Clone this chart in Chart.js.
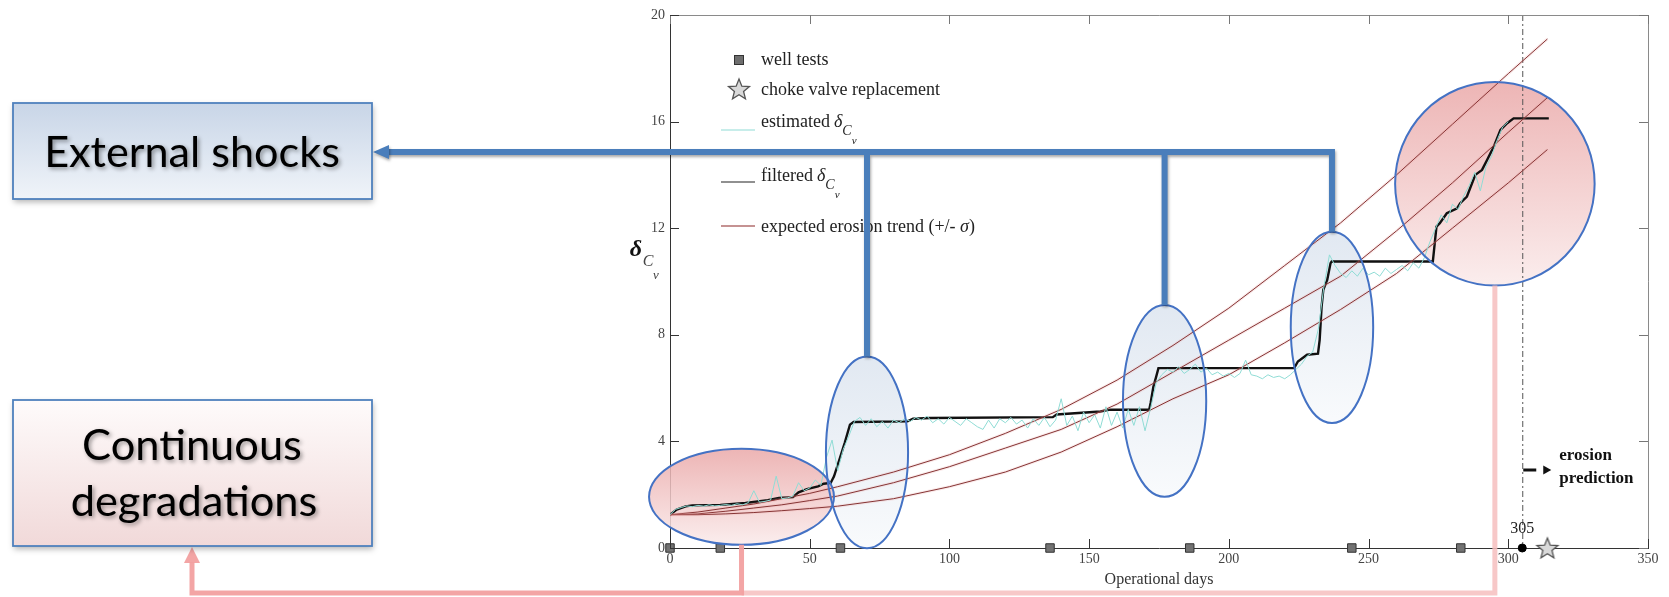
<!DOCTYPE html>
<html>
<head>
<meta charset="utf-8">
<script src="https://cdn.jsdelivr.net/npm/chart.js@4.4.0/dist/chart.umd.min.js"></script>
<style>
html,body{margin:0;padding:0;background:#fff;}
</style>
</head>
<body>
<canvas id="myChart" width="1669" height="597"></canvas>
<script>
// axis ticks
const xTicks = [0, 50, 100, 150, 200, 250, 300, 350];
const yTicks = [0, 4, 8, 12, 16, 20];

// estimated delta (one reading every 2 days, from day 0)
const estValues = [
  1.25,1.45,1.52,1.58,1.55,1.6,1.57,1.62,1.58,1.6,1.63,
  1.6,1.66,1.62,1.7,2.15,1.72,1.75,1.8,2.7,1.85,
  1.88,1.95,2.45,2.15,2.25,2.55,2.35,3.4,4.05,2.9,
  3.7,4.2,4.75,4.9,4.6,4.85,4.55,4.75,4.5,4.8,
  4.7,4.85,4.75,4.9,4.8,4.95,4.7,4.85,4.65,4.9,
  4.75,4.6,4.85,4.7,4.55,4.45,4.8,4.5,4.85,4.7,
  4.9,4.65,4.8,4.5,4.85,4.6,4.9,4.55,4.8,5.6,
  4.6,4.95,4.4,5.1,4.7,5.0,4.5,5.3,4.6,5.1,
  4.5,5.2,4.6,5.3,4.4,5.25,6.2,6.5,6.7,6.6,
  6.8,6.55,6.7,6.9,6.6,6.75,6.5,6.6,6.45,6.55,
  6.4,6.55,7.05,6.5,6.45,6.35,6.5,6.4,6.45,6.35,
  6.5,6.7,6.9,7.2,7.35,8.2,9.8,11.0,10.6,10.3,
  10.15,10.4,10.2,10.5,10.25,10.35,10.2,10.5,10.3,10.45,
  10.6,10.4,10.7,10.5,10.9,11.5,12.0,12.5,12.2,12.9,
  12.7,13.2,13.6,14.1,13.4,14.3,14.7,15.3,15.8,16.0
];
const estDays = estValues.map((v, i) => i * 2);

// filtered delta
const filtDays = [0,2.4,5.6,8,18,27,35,39,44,46,49,53,55,57.5,58.7,60.6,62.5,64.4,65.7,85,87,93,137,138.4,154,157.5,171.5,172,173,174,174.8,223.4,224.7,228,231.9,232.5,233.2,233.8,235.2,236.4,236.8,273,274.3,275.5,278,281.7,282.8,285.2,288.2,290.6,292.4,294.8,297.2,299.6,301.9,314.5];
const filtValues = [1.25,1.44,1.56,1.6,1.62,1.69,1.79,1.88,1.91,2.09,2.21,2.31,2.41,2.44,2.69,3.31,3.94,4.63,4.73,4.75,4.85,4.88,4.91,5.01,5.12,5.19,5.19,5.44,6.06,6.43,6.75,6.75,7.0,7.25,7.29,7.81,9.06,9.69,10.06,10.69,10.75,10.75,12.06,12.19,12.56,12.75,12.94,13.19,14.0,14.19,14.56,15.06,15.69,15.94,16.12,16.12];

// expected erosion trend (+/- sigma)
const trendDays  = [0,10,20,30,40,50,60,80,100,120,140,160,180,200,220,240,260,280,300,314];
const trendUpper = [1.25,1.35,1.5,1.65,1.85,2.05,2.3,2.85,3.5,4.3,5.2,6.3,7.6,9.0,10.6,12.2,14.0,15.9,17.8,19.1];
const trendMid   = [1.25,1.28,1.38,1.5,1.62,1.78,1.95,2.45,3.05,3.75,4.45,5.4,6.6,7.8,9.0,10.2,11.9,13.7,15.6,16.9];
const trendLower = [1.25,1.25,1.28,1.33,1.4,1.48,1.57,1.85,2.3,2.85,3.6,4.55,5.6,6.5,7.7,8.95,10.3,12.0,13.7,14.95];

// events
const wellTestDays = [0, 18, 61, 136, 186, 244, 283];
const chokeDays = [314];
const predictionDay = 305;

// highlighted zones (day, value, half width in days, half height in value)
const shockZones = [
  {day: 70.5, val: 3.59, rd: 14.7, rv: 3.6},
  {day: 177.0, val: 5.52, rd: 14.9, rv: 3.6},
  {day: 236.9, val: 8.28, rd: 14.75, rv: 3.59}
];
const degradZones = [
  {day: 25.6, val: 1.92, rd: 33.1, rv: 1.8},
  {day: 295.2, val: 13.67, rd: 35.7, rv: 3.82}
];
const shockLineVal = 14.86;

function pts(xs, ys) { return xs.map((d, i) => ({x: d, y: ys[i]})); }

function starPath(c, cx, cy, R, r) {
  c.beginPath();
  for (let i = 0; i < 10; i++) {
    const a = -Math.PI / 2 + i * Math.PI / 5;
    const rr = i % 2 ? r : R;
    c.lineTo(cx + rr * Math.cos(a), cy + rr * Math.sin(a));
  }
  c.closePath();
}

const starImg = document.createElement('canvas');
starImg.width = 26; starImg.height = 26;
(function () {
  const g = starImg.getContext('2d');
  starPath(g, 13, 14, 11, 4.8);
  g.fillStyle = '#d9d9d9'; g.fill();
  g.strokeStyle = '#555'; g.lineWidth = 1.3; g.stroke();
})();

function zoneGeom(s, x, y) {
  const cx = x.getPixelForValue(s.day), cy = y.getPixelForValue(s.val);
  return {cx, cy, rx: x.getPixelForValue(s.day + s.rd) - cx, ry: cy - y.getPixelForValue(s.val + s.rv)};
}

function fitFont(c, txt, w, family, weight) {
  c.font = weight + ' 40px ' + family;
  const s = 40 * w / c.measureText(txt).width;
  return weight + ' ' + s.toFixed(1) + 'px ' + family;
}

function box(c, x0, y0, x1, y1, top, bot) {
  c.save();
  const g = c.createLinearGradient(0, y0, 0, y1);
  g.addColorStop(0, top); g.addColorStop(1, bot);
  c.shadowColor = 'rgba(0,0,0,0.3)'; c.shadowBlur = 6; c.shadowOffsetY = 3; c.shadowOffsetX = 1;
  c.fillStyle = g; c.fillRect(x0, y0, x1 - x0, y1 - y0);
  c.shadowColor = 'transparent';
  c.strokeStyle = '#4f81bd'; c.lineWidth = 1.8; c.strokeRect(x0, y0, x1 - x0, y1 - y0);
  c.restore();
}

const overlay = {
  id: 'overlay',
  beforeDatasetsDraw(chart) {
    const {ctx, scales: {x, y}, chartArea: a} = chart;
    ctx.save();
    // zone fills
    shockZones.forEach(s => {
      const e = zoneGeom(s, x, y);
      const g = ctx.createLinearGradient(0, e.cy - e.ry, 0, e.cy + e.ry);
      g.addColorStop(0, 'rgba(222,230,240,0.9)'); g.addColorStop(1, 'rgba(248,250,252,0.9)');
      ctx.beginPath(); ctx.ellipse(e.cx, e.cy, e.rx, e.ry, 0, 0, Math.PI * 2);
      ctx.fillStyle = g; ctx.fill();
    });
    degradZones.forEach(s => {
      const e = zoneGeom(s, x, y);
      const g = ctx.createLinearGradient(0, e.cy - e.ry, 0, e.cy + e.ry);
      g.addColorStop(0, 'rgba(234,168,168,0.85)'); g.addColorStop(1, 'rgba(250,234,234,0.85)');
      ctx.beginPath(); ctx.ellipse(e.cx, e.cy, e.rx, e.ry, 0, 0, Math.PI * 2);
      ctx.fillStyle = g; ctx.fill();
    });
    // prediction line
    const px = x.getPixelForValue(predictionDay);
    ctx.strokeStyle = '#555'; ctx.lineWidth = 1; ctx.setLineDash([6, 3, 2, 3]);
    ctx.beginPath(); ctx.moveTo(px + 0.5, a.top); ctx.lineTo(px + 0.5, a.bottom); ctx.stroke();
    ctx.setLineDash([]);
    ctx.restore();
  },
  afterDatasetsDraw(chart) {
    const {ctx, scales: {x, y}, chartArea: a} = chart;
    ctx.save();
    // top / right frame
    ctx.strokeStyle = '#8a8a8a'; ctx.lineWidth = 1;
    ctx.beginPath(); ctx.moveTo(a.left, a.top + 0.5); ctx.lineTo(a.right + 0.5, a.top + 0.5); ctx.lineTo(a.right + 0.5, a.bottom); ctx.stroke();
    // inward ticks
    x.ticks.forEach(t => {
      const p = Math.round(x.getPixelForValue(t.value)) + 0.5;
      ctx.strokeStyle = '#333'; ctx.beginPath(); ctx.moveTo(p, a.bottom); ctx.lineTo(p, a.bottom - 9); ctx.stroke();
      ctx.strokeStyle = '#777'; ctx.beginPath(); ctx.moveTo(p, a.top); ctx.lineTo(p, a.top + 9); ctx.stroke();
    });
    y.ticks.forEach(t => {
      const p = Math.round(y.getPixelForValue(t.value)) + 0.5;
      ctx.strokeStyle = '#333'; ctx.beginPath(); ctx.moveTo(a.left, p); ctx.lineTo(a.left + 9, p); ctx.stroke();
      ctx.strokeStyle = '#777'; ctx.beginPath(); ctx.moveTo(a.right, p); ctx.lineTo(a.right - 9, p); ctx.stroke();
    });

    // zone outlines
    ctx.strokeStyle = '#4472c4'; ctx.lineWidth = 2;
    shockZones.concat(degradZones).forEach(s => {
      const e = zoneGeom(s, x, y);
      ctx.beginPath(); ctx.ellipse(e.cx, e.cy, e.rx, e.ry, 0, 0, Math.PI * 2); ctx.stroke();
    });

    // axis title and labels
    ctx.fillStyle = '#333'; ctx.textBaseline = 'middle'; ctx.textAlign = 'center';
    ctx.font = '16px "Liberation Serif"';
    ctx.fillText('Operational days', (a.left + a.right) / 2, 580);
    ctx.fillStyle = '#111';
    ctx.font = 'bold italic 24px "Liberation Serif"';
    ctx.fillText('\u03b4', 636, 250);
    ctx.fillStyle = '#444';
    ctx.font = 'italic 16px "Liberation Serif"'; ctx.fillText('C', 648, 262);
    ctx.font = 'italic 13px "Liberation Serif"'; ctx.fillText('v', 656, 276);

    // 305 marker text + erosion prediction
    const px = x.getPixelForValue(predictionDay);
    ctx.fillStyle = '#222'; ctx.font = '16px "Liberation Serif"';
    ctx.fillText(String(predictionDay), px, 529);
    ctx.fillStyle = '#111'; ctx.strokeStyle = '#111'; ctx.lineWidth = 3;
    ctx.beginPath(); ctx.moveTo(px + 1, 470); ctx.lineTo(px + 14, 470); ctx.stroke();
    ctx.beginPath(); ctx.moveTo(px + 21, 465.5); ctx.lineTo(px + 29, 470); ctx.lineTo(px + 21, 474.5); ctx.closePath(); ctx.fill();
    ctx.textAlign = 'left'; ctx.font = 'bold 17px "Liberation Serif"';
    ctx.fillText('erosion', px + 37, 456);
    ctx.fillText('prediction', px + 37, 479);

    // legend
    const lx = 761;
    ctx.font = '18px "Liberation Serif"'; ctx.fillStyle = '#222'; ctx.textAlign = 'left';
    ctx.fillStyle = '#6e6e6e'; ctx.fillRect(735, 56, 8, 8);
    ctx.strokeStyle = '#333'; ctx.lineWidth = 1; ctx.strokeRect(734.5, 55.5, 9, 9);
    ctx.fillStyle = '#222'; ctx.fillText('well tests', lx, 60);
    ctx.drawImage(starImg, 739 - 13, 90 - 14);
    ctx.fillText('choke valve replacement', lx, 90);
    ctx.lineWidth = 1.2;
    ctx.strokeStyle = '#8fdcd5'; ctx.beginPath(); ctx.moveTo(721, 130); ctx.lineTo(755, 130); ctx.stroke();
    ctx.strokeStyle = '#222'; ctx.beginPath(); ctx.moveTo(721, 182); ctx.lineTo(755, 182); ctx.stroke();
    ctx.strokeStyle = '#8b2626'; ctx.beginPath(); ctx.moveTo(721, 226); ctx.lineTo(755, 226); ctx.stroke();
    function deltaCv(txt, yy) {
      ctx.font = '18px "Liberation Serif"'; ctx.fillText(txt, lx, yy);
      let w = lx + ctx.measureText(txt).width + 4;
      ctx.font = 'italic 18px "Liberation Serif"'; ctx.fillText('\u03b4', w, yy);
      w += ctx.measureText('\u03b4').width;
      ctx.font = 'italic 14px "Liberation Serif"'; ctx.fillText('C', w, yy + 9);
      w += ctx.measureText('C').width;
      ctx.font = 'italic 11px "Liberation Serif"'; ctx.fillText('v', w, yy + 19);
    }
    deltaCv('estimated', 122);
    deltaCv('filtered', 176);
    ctx.font = '18px "Liberation Serif"';
    const t3 = 'expected erosion trend (+/- ';
    ctx.fillText(t3, lx, 227);
    let w3 = lx + ctx.measureText(t3).width;
    ctx.font = 'italic 18px "Liberation Serif"'; ctx.fillText('\u03c3', w3, 227);
    w3 += ctx.measureText('\u03c3').width;
    ctx.font = '18px "Liberation Serif"'; ctx.fillText(')', w3, 227);

    // pink connectors (continuous degradations)
    const lz = zoneGeom(degradZones[0], x, y), rz = zoneGeom(degradZones[1], x, y);
    const yb = 593;
    ctx.lineWidth = 5; ctx.lineJoin = 'miter'; ctx.lineCap = 'butt';
    ctx.strokeStyle = 'rgba(246,190,190,0.85)';
    ctx.beginPath(); ctx.moveTo(rz.cx, rz.cy + rz.ry); ctx.lineTo(rz.cx, yb); ctx.lineTo(lz.cx, yb); ctx.stroke();
    ctx.strokeStyle = 'rgba(242,160,160,0.95)';
    ctx.beginPath(); ctx.moveTo(lz.cx, lz.cy + lz.ry); ctx.lineTo(lz.cx, yb); ctx.lineTo(192, yb); ctx.lineTo(192, 562); ctx.stroke();
    ctx.fillStyle = 'rgba(242,160,160,0.95)';
    ctx.beginPath(); ctx.moveTo(184, 563); ctx.lineTo(192, 547); ctx.lineTo(200, 563); ctx.closePath(); ctx.fill();

    // blue connectors (external shocks)
    const ly = y.getPixelForValue(shockLineVal);
    ctx.save();
    ctx.shadowColor = 'rgba(0,0,0,0.35)'; ctx.shadowBlur = 3; ctx.shadowOffsetY = 2; ctx.shadowOffsetX = 1;
    ctx.strokeStyle = '#4a7ebb'; ctx.fillStyle = '#4a7ebb'; ctx.lineWidth = 6;
    const tops = shockZones.map(s => zoneGeom(s, x, y));
    ctx.beginPath();
    ctx.moveTo(386, ly); ctx.lineTo(tops[2].cx, ly); ctx.lineTo(tops[2].cx, tops[2].cy - tops[2].ry);
    ctx.moveTo(tops[0].cx, ly); ctx.lineTo(tops[0].cx, tops[0].cy - tops[0].ry);
    ctx.moveTo(tops[1].cx, ly); ctx.lineTo(tops[1].cx, tops[1].cy - tops[1].ry);
    ctx.stroke();
    ctx.beginPath(); ctx.moveTo(373, ly); ctx.lineTo(389, ly - 7); ctx.lineTo(389, ly + 7); ctx.closePath(); ctx.fill();
    ctx.restore();

    // boxes
    box(ctx, 13, 103, 372, 199, '#c8d5e7', '#f0f4f9');
    box(ctx, 13, 400, 372, 546, '#fefbfb', '#f1d9d9');
    ctx.save();
    ctx.shadowColor = 'rgba(0,0,0,0.4)'; ctx.shadowBlur = 4; ctx.shadowOffsetX = 2; ctx.shadowOffsetY = 2;
    ctx.fillStyle = '#000'; ctx.textAlign = 'center'; ctx.textBaseline = 'alphabetic';
    ctx.font = fitFont(ctx, 'External shocks', 296, 'Lato', 'normal');
    ctx.fillText('External shocks', 192, 167);
    ctx.font = fitFont(ctx, 'degradations', 247, 'Lato', 'normal');
    ctx.fillText('Continuous', 192, 460);
    ctx.fillText('degradations', 194, 516);
    ctx.restore();

    ctx.restore();
  }
};

const serif = {family: 'Liberation Serif', size: 14};

new Chart(document.getElementById('myChart'), {
  type: 'scatter',
  data: {
    datasets: [
      {label: 'estimated', data: pts(estDays, estValues), showLine: true, borderColor: '#8fdcd5', borderWidth: 1, pointRadius: 0},
      {label: 'trend halo +', data: pts(trendDays, trendUpper), showLine: true, borderColor: 'rgba(230,150,150,0.2)', borderWidth: 3, pointRadius: 0},
      {label: 'trend halo', data: pts(trendDays, trendMid), showLine: true, borderColor: 'rgba(230,150,150,0.2)', borderWidth: 3, pointRadius: 0},
      {label: 'trend halo -', data: pts(trendDays, trendLower), showLine: true, borderColor: 'rgba(230,150,150,0.2)', borderWidth: 3, pointRadius: 0},
      {label: 'trend +sigma', data: pts(trendDays, trendUpper), showLine: true, borderColor: '#6e1c1c', borderWidth: 1, pointRadius: 0},
      {label: 'trend', data: pts(trendDays, trendMid), showLine: true, borderColor: '#6e1c1c', borderWidth: 1, pointRadius: 0},
      {label: 'trend -sigma', data: pts(trendDays, trendLower), showLine: true, borderColor: '#6e1c1c', borderWidth: 1, pointRadius: 0},
      {label: 'filtered', data: pts(filtDays, filtValues), showLine: true, borderColor: '#111', borderWidth: 2.4, pointRadius: 0},
      {label: 'well tests', data: wellTestDays.map(d => ({x: d, y: 0})), pointStyle: 'rect', pointRadius: 6, backgroundColor: '#727272', borderColor: '#333', borderWidth: 1, clip: false},
      {label: 'prediction', data: [{x: predictionDay, y: 0}], pointRadius: 4, backgroundColor: '#000', borderColor: '#000', clip: false},
      {label: 'choke valve replacement', data: chokeDays.map(d => ({x: d, y: 0})), pointStyle: starImg, clip: false}
    ]
  },
  options: {
    responsive: false,
    animation: false,
    events: [],
    layout: {padding: {left: 630, right: 21, top: 15, bottom: 19}},
    plugins: {legend: {display: false}, tooltip: {enabled: false}},
    scales: {
      x: {
        type: 'linear', min: 0, max: 350,
        afterBuildTicks(s) { s.ticks = xTicks.map(v => ({value: v})); },
        afterFit(s) { s.height = 30; },
        ticks: {font: serif, color: '#444', padding: 3, maxRotation: 0, autoSkip: false},
        grid: {display: false, drawTicks: false},
        border: {color: '#333', width: 1}
      },
      y: {
        min: 0, max: 20,
        afterBuildTicks(s) { s.ticks = yTicks.map(v => ({value: v})); },
        afterFit(s) { s.width = 40; },
        ticks: {font: serif, color: '#444', padding: 5, autoSkip: false},
        grid: {display: false, drawTicks: false},
        border: {color: '#333', width: 1}
      }
    }
  },
  plugins: [overlay]
});
</script>
</body>
</html>
